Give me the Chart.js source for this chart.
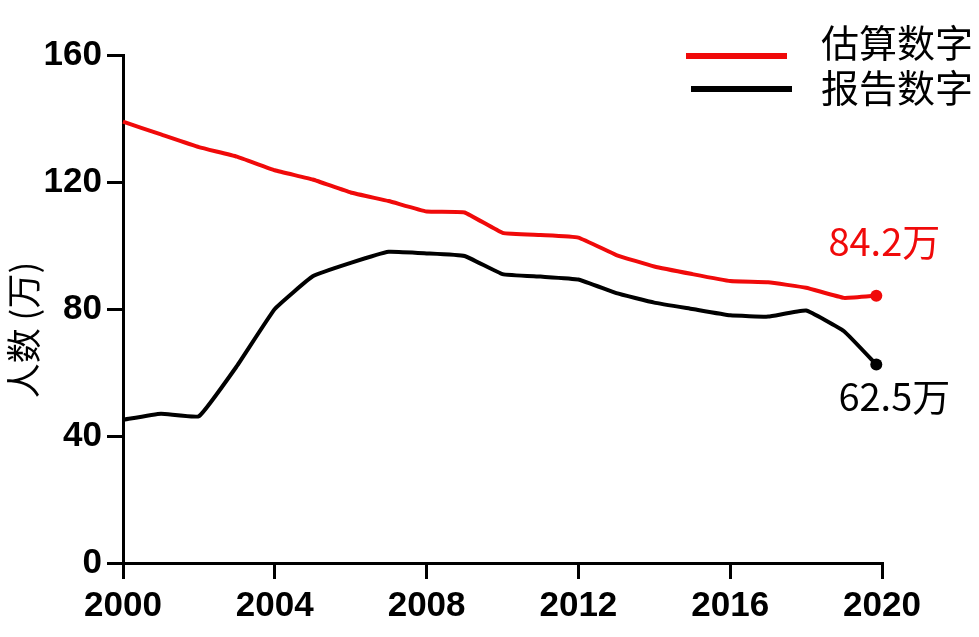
<!DOCTYPE html>
<html>
<head>
<meta charset="utf-8">
<script src="https://cdn.jsdelivr.net/npm/chart.js@4/dist/chart.umd.min.js"></script>
<style>
  html, body { margin: 0; padding: 0; background: #fff; }
  #wrap { width: 979px; height: 637px; position: relative; }
</style>
</head>
<body>
<div id="wrap"><canvas id="chart"></canvas></div>
<script>
// Years (last point sits just short of the 2020 tick in the source)
const years = [2000, 2001, 2002, 2003, 2004, 2005, 2006, 2007, 2008, 2009,
  2010, 2011, 2012, 2013, 2014, 2015, 2016, 2017, 2018, 2019, 2019.85];

// 估算数字 (estimated), 万
const estimated = [139, 135, 131, 128, 123.7, 120.8, 116.7, 114, 110.7, 110.4,
  104, 103.3, 102.5, 97, 93.4, 91, 88.8, 88.4, 86.7, 83.5, 84.2];

// 报告数字 (reported), 万
const reported = [45.1, 47, 46.2, 62, 80, 90.3, 94.5, 98, 97.5, 96.7,
  91, 90.2, 89.3, 85, 82, 80, 78, 77.6, 79.5, 73, 62.5];

const yTicks = [0, 40, 80, 120, 160];
const xTicks = [2000, 2004, 2008, 2012, 2016, 2020];

const seriesNames = ['估算数字', '报告数字'];
const seriesColors = ['#f00a0a', '#000000'];
const endLabels = ['84.2万', '62.5万'];
const yTitle = '人数 (万)';

const CJK = '"Noto Sans CJK SC", "Noto Sans", sans-serif';
const BOLD = '"Liberation Sans", Arial, sans-serif';

const toPoints = vals => vals.map((v, i) => ({ x: years[i], y: v }));
const lastOnly = n => Array.from({ length: n }, (_, i) => (i === n - 1 ? 6 : 0));

// Legend lines, y title and end-of-line value labels
const overlay = {
  id: 'overlay',
  afterDraw(chart) {
    const { ctx, scales } = chart;
    ctx.save();
    // legend
    const rows = [
      { y: 56, x0: 686, x1: 787, ty: 43 },
      { y: 89, x0: 691, x1: 792, ty: 88 },
    ];
    rows.forEach((r, i) => {
      ctx.strokeStyle = seriesColors[i];
      ctx.lineWidth = 6;
      ctx.beginPath();
      ctx.moveTo(r.x0, r.y);
      ctx.lineTo(r.x1, r.y);
      ctx.stroke();
      ctx.fillStyle = '#000';
      ctx.font = '38px ' + CJK;
      ctx.textAlign = 'left';
      ctx.textBaseline = 'middle';
      ctx.fillText(seriesNames[i], 821, r.ty);
    });
    // y axis title
    ctx.save();
    ctx.translate(24, 330);
    ctx.rotate(-Math.PI / 2);
    ctx.font = '35px ' + CJK;
    ctx.fillStyle = '#000';
    ctx.textAlign = 'center';
    ctx.textBaseline = 'middle';
    ctx.fillText(yTitle, 0, 0);
    ctx.restore();
    // end labels
    const n = years.length - 1;
    const xe = scales.x.getPixelForValue(years[n]);
    ctx.font = '38px ' + CJK;
    ctx.textAlign = 'center';
    ctx.textBaseline = 'middle';
    ctx.fillStyle = seriesColors[0];
    ctx.fillText(endLabels[0], xe + 8, scales.y.getPixelForValue(estimated[n]) - 54);
    ctx.fillStyle = seriesColors[1];
    ctx.fillText(endLabels[1], xe + 18, scales.y.getPixelForValue(reported[n]) + 32);
    ctx.restore();
  }
};

new Chart(document.getElementById('chart'), {
  type: 'line',
  data: {
    datasets: [
      {
        label: seriesNames[0],
        data: toPoints(estimated),
        borderColor: seriesColors[0],
        backgroundColor: seriesColors[0],
        borderWidth: 4,
        pointRadius: lastOnly(years.length),
        pointBorderWidth: 0,
        tension: 0.1,
        clip: false,
      },
      {
        label: seriesNames[1],
        data: toPoints(reported),
        borderColor: seriesColors[1],
        backgroundColor: seriesColors[1],
        borderWidth: 4,
        pointRadius: lastOnly(years.length),
        pointBorderWidth: 0,
        tension: 0.1,
        clip: false,
      },
    ],
  },
  options: {
    responsive: true,
    maintainAspectRatio: false,
    animation: false,
    events: [],
    layout: { padding: { top: 55, right: 97, left: 0, bottom: 0 } },
    plugins: { legend: { display: false }, tooltip: { enabled: false } },
    scales: {
      x: {
        type: 'linear',
        min: 2000,
        max: 2020,
        afterBuildTicks: s => { s.ticks = xTicks.map(v => ({ value: v })); },
        afterFit: s => { s.height = 74; },
        ticks: {
          callback: v => String(v),
          color: '#000',
          font: { family: BOLD, size: 35, weight: 'bold' },
          padding: 6,
          maxRotation: 0,
        },
        grid: { drawOnChartArea: false, drawTicks: true, tickLength: 16, lineWidth: 3, color: '#000' },
        border: { color: '#000', width: 3 },
      },
      y: {
        min: 0,
        max: 160,
        afterBuildTicks: s => { s.ticks = yTicks.map(v => ({ value: v })); },
        afterFit: s => { s.width = 123; },
        ticks: {
          color: '#000',
          font: { family: BOLD, size: 35, weight: 'bold' },
          padding: 5,
        },
        grid: { drawOnChartArea: false, drawTicks: true, tickLength: 16, lineWidth: 3, color: '#000' },
        border: { color: '#000', width: 3 },
      },
    },
  },
  plugins: [overlay],
});
</script>
</body>
</html>
